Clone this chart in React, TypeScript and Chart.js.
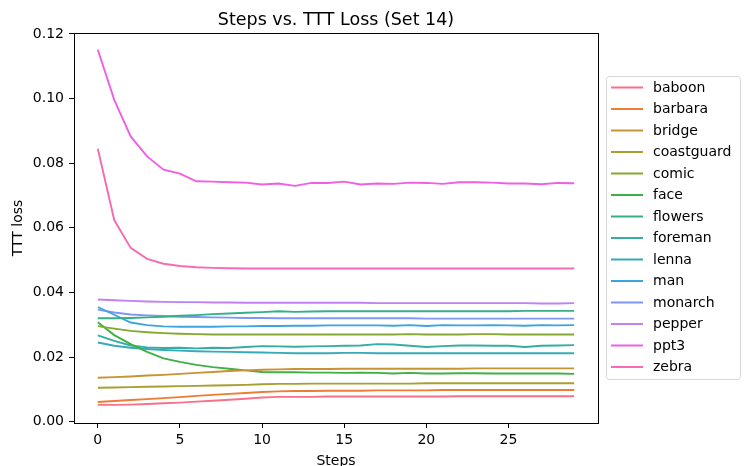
import React, { useEffect, useRef } from "react";
import { Chart, registerables } from "chart.js";

Chart.register(...registerables);

const STEPS = [0, 1, 2, 3, 4, 5, 6, 7, 8, 9, 10, 11, 12, 13, 14, 15, 16, 17, 18, 19, 20, 21, 22, 23, 24, 25, 26, 27, 28, 29];
const X_TICKS = [0, 5, 10, 15, 20, 25];
const Y_TICKS = [0, 0.02, 0.04, 0.06, 0.08, 0.1, 0.12];

const SERIES_NAMES = ["baboon", "barbara", "bridge", "coastguard", "comic", "face", "flowers", "foreman", "lenna", "man", "monarch", "pepper", "ppt3", "zebra"];
const SERIES_COLORS = ["#f77189", "#ed7d33", "#c69432", "#a89f31", "#84a831", "#3fb045", "#34af8a", "#36ada4", "#37aab8", "#3ea4e0", "#7f97f4", "#bf81f4", "#f05ee4", "#f66bb4"];

const baboon = [0.0052, 0.0052, 0.0053, 0.0055, 0.0057, 0.0059, 0.0062, 0.0065, 0.0068, 0.0071, 0.0075, 0.0077, 0.0077, 0.0077, 0.0078, 0.0078, 0.0078, 0.0078, 0.0078, 0.0078, 0.0078, 0.0078, 0.0079, 0.0079, 0.0079, 0.0079, 0.0079, 0.0079, 0.0079, 0.0079];
const barbara = [0.0061, 0.0064, 0.0067, 0.007, 0.0073, 0.0076, 0.008, 0.0083, 0.0086, 0.0089, 0.0092, 0.0094, 0.0095, 0.0095, 0.0096, 0.0096, 0.0096, 0.0097, 0.0097, 0.0097, 0.0097, 0.0098, 0.0098, 0.0098, 0.0098, 0.0098, 0.0098, 0.0098, 0.0098, 0.0098];
const bridge = [0.0136, 0.0138, 0.014, 0.0143, 0.0145, 0.0148, 0.0151, 0.0154, 0.0157, 0.0159, 0.0161, 0.0162, 0.0163, 0.0163, 0.0163, 0.0164, 0.0164, 0.0164, 0.0164, 0.0164, 0.0164, 0.0164, 0.0164, 0.0165, 0.0165, 0.0165, 0.0165, 0.0165, 0.0165, 0.0165];
const coastguard = [0.0105, 0.0106, 0.0107, 0.0108, 0.0109, 0.011, 0.0111, 0.0112, 0.0113, 0.0114, 0.0116, 0.0117, 0.0117, 0.0118, 0.0118, 0.0118, 0.0118, 0.0118, 0.0118, 0.0118, 0.0119, 0.0119, 0.0119, 0.0119, 0.0119, 0.0119, 0.0119, 0.0119, 0.0119, 0.0119];
const comic = [0.0296, 0.0288, 0.0281, 0.0277, 0.0274, 0.0272, 0.0271, 0.027, 0.027, 0.027, 0.027, 0.027, 0.027, 0.027, 0.027, 0.027, 0.027, 0.027, 0.027, 0.0271, 0.027, 0.027, 0.027, 0.0271, 0.0271, 0.027, 0.027, 0.027, 0.027, 0.027];
const face = [0.0308, 0.0268, 0.024, 0.0216, 0.0196, 0.0185, 0.0176, 0.0169, 0.0164, 0.0159, 0.0154, 0.0153, 0.0153, 0.0152, 0.0152, 0.0151, 0.0152, 0.0151, 0.0149, 0.0151, 0.0149, 0.0149, 0.015, 0.015, 0.0149, 0.0149, 0.0149, 0.0149, 0.0149, 0.0148];
const flowers = [0.032, 0.032, 0.0321, 0.0323, 0.0325, 0.0328, 0.033, 0.0333, 0.0335, 0.0337, 0.0339, 0.0342, 0.034, 0.0341, 0.0342, 0.0342, 0.0342, 0.0342, 0.0342, 0.0342, 0.0342, 0.0342, 0.0342, 0.0342, 0.0342, 0.0342, 0.0343, 0.0343, 0.0343, 0.0343];
const foreman = [0.0267, 0.025, 0.0236, 0.023, 0.0228, 0.0229, 0.0227, 0.0229, 0.0228, 0.0231, 0.0234, 0.0233, 0.0232, 0.0233, 0.0234, 0.0235, 0.0236, 0.024, 0.0239, 0.0235, 0.0231, 0.0234, 0.0236, 0.0236, 0.0235, 0.0235, 0.0231, 0.0235, 0.0236, 0.0237];
const lenna = [0.0245, 0.0235, 0.0229, 0.0225, 0.0222, 0.022, 0.0218, 0.0217, 0.0216, 0.0215, 0.0214, 0.0213, 0.0212, 0.0212, 0.0212, 0.0213, 0.0213, 0.0212, 0.0212, 0.0212, 0.0212, 0.0212, 0.0212, 0.0212, 0.0212, 0.0212, 0.0212, 0.0212, 0.0212, 0.0212];
const man = [0.0355, 0.0331, 0.0307, 0.0299, 0.0295, 0.0294, 0.0294, 0.0294, 0.0295, 0.0295, 0.0296, 0.0296, 0.0297, 0.0297, 0.0298, 0.0298, 0.0298, 0.0298, 0.0297, 0.0299, 0.0296, 0.0299, 0.0298, 0.0298, 0.0299, 0.0298, 0.0297, 0.0299, 0.0298, 0.0299];
const monarch = [0.0347, 0.0338, 0.0332, 0.0329, 0.0327, 0.0325, 0.0324, 0.0323, 0.0322, 0.0321, 0.0321, 0.032, 0.032, 0.032, 0.032, 0.032, 0.032, 0.032, 0.032, 0.032, 0.0319, 0.0319, 0.0319, 0.0319, 0.0319, 0.0319, 0.0319, 0.0319, 0.0319, 0.0319];
const pepper = [0.0378, 0.0376, 0.0374, 0.0372, 0.0371, 0.037, 0.037, 0.0369, 0.0369, 0.0368, 0.0368, 0.0368, 0.0368, 0.0368, 0.0368, 0.0368, 0.0368, 0.0367, 0.0367, 0.0367, 0.0367, 0.0367, 0.0367, 0.0367, 0.0367, 0.0367, 0.0367, 0.0366, 0.0366, 0.0367];
const ppt3 = [0.1151, 0.0996, 0.0883, 0.0821, 0.078, 0.0768, 0.0744, 0.0743, 0.0741, 0.074, 0.0734, 0.0737, 0.073, 0.0739, 0.0739, 0.0743, 0.0734, 0.0737, 0.0736, 0.074, 0.0739, 0.0736, 0.0741, 0.0741, 0.074, 0.0737, 0.0737, 0.0735, 0.0739, 0.0738];
const zebra = [0.0845, 0.0624, 0.0538, 0.0504, 0.0489, 0.0482, 0.0478, 0.0476, 0.0475, 0.0474, 0.0474, 0.0474, 0.0474, 0.0474, 0.0474, 0.0474, 0.0474, 0.0474, 0.0474, 0.0474, 0.0474, 0.0474, 0.0474, 0.0474, 0.0474, 0.0474, 0.0474, 0.0474, 0.0474, 0.0474];

const SERIES_VALUES = [baboon, barbara, bridge, coastguard, comic, face, flowers, foreman, lenna, man, monarch, pepper, ppt3, zebra];

const FONT = "'DejaVu Sans', sans-serif";

const framePlugin = {
  id: "frameAndLegend",
  afterDraw(chart: any) {
    const { ctx, chartArea } = chart;
    ctx.save();
    ctx.strokeStyle = "#000";
    ctx.lineWidth = 1;
    ctx.strokeRect(
      Math.round(chartArea.left) + 0.5,
      Math.round(chartArea.top) + 0.5,
      Math.round(chartArea.right - chartArea.left),
      Math.round(chartArea.bottom - chartArea.top)
    );
    ctx.fillStyle = "#000";
    ctx.font = `17.5px ${FONT}`;
    ctx.textAlign = "center";
    ctx.textBaseline = "alphabetic";
    ctx.fillText("Steps vs. TTT Loss (Set 14)", (chartArea.left + chartArea.right) / 2, 25);

    const bx = 606.5, by = 76.5, bw = 134, bh = 303, r = 3;
    ctx.beginPath();
    ctx.moveTo(bx + r, by);
    ctx.lineTo(bx + bw - r, by);
    ctx.quadraticCurveTo(bx + bw, by, bx + bw, by + r);
    ctx.lineTo(bx + bw, by + bh - r);
    ctx.quadraticCurveTo(bx + bw, by + bh, bx + bw - r, by + bh);
    ctx.lineTo(bx + r, by + bh);
    ctx.quadraticCurveTo(bx, by + bh, bx, by + bh - r);
    ctx.lineTo(bx, by + r);
    ctx.quadraticCurveTo(bx, by, bx + r, by);
    ctx.closePath();
    ctx.fillStyle = "rgba(255,255,255,0.8)";
    ctx.fill();
    ctx.strokeStyle = "#d6d6d6";
    ctx.lineWidth = 1;
    ctx.stroke();

    ctx.font = `14px ${FONT}`;
    ctx.textAlign = "left";
    ctx.textBaseline = "middle";
    chart.data.datasets.forEach((ds: any, i: number) => {
      const y = 87.5 + i * 21.5;
      ctx.strokeStyle = ds.borderColor;
      ctx.lineWidth = 2;
      ctx.beginPath();
      ctx.moveTo(611, y);
      ctx.lineTo(643, y);
      ctx.stroke();
      ctx.fillStyle = "#000";
      ctx.fillText(ds.label, 653, y + 0.5);
    });
    ctx.restore();
  },
};

export default function App() {
  const ref = useRef<HTMLCanvasElement | null>(null);

  useEffect(() => {
    document.body.style.margin = "0";
    if (!ref.current) return;
    Chart.defaults.color = "#000";
    Chart.defaults.font.family = FONT;
    const chart = new Chart(ref.current, {
      type: "line",
      data: {
        datasets: SERIES_NAMES.map((name, i) => ({
          label: name,
          data: SERIES_VALUES[i].map((v, j) => ({ x: STEPS[j], y: v })),
          borderColor: SERIES_COLORS[i],
          backgroundColor: SERIES_COLORS[i],
          borderWidth: 1.9,
          pointRadius: 0,
          tension: 0,
          fill: false,
        })),
      },
      options: {
        animation: false,
        responsive: false,
        events: [],
        layout: { padding: { left: 0, right: 156, top: 33, bottom: 0 } },
        plugins: {
          legend: { display: false },
          title: { display: false },
          tooltip: { enabled: false },
        },
        scales: {
          x: {
            type: "linear",
            min: -1.45,
            max: 30.45,
            afterBuildTicks: (scale: any) => {
              scale.ticks = X_TICKS.map((v) => ({ value: v }));
            },
            afterFit: (scale: any) => {
              scale.height = 43;
            },
            ticks: {
              font: { size: 14, family: FONT },
              color: "#000",
              padding: 4,
              maxRotation: 0,
              autoSkip: false,
              callback: (v: any) => String(v),
            },
            grid: {
              display: true,
              drawOnChartArea: false,
              drawTicks: true,
              tickLength: 5,
              tickColor: "#000",
              color: "#000",
            },
            border: { display: true, color: "#000", width: 1 },
            title: {
              display: true,
              text: "Steps",
              font: { size: 14, family: FONT },
              color: "#000",
              padding: { top: 0, bottom: -3.4 },
            },
          },
          y: {
            type: "linear",
            min: -0.0004,
            max: 0.1203,
            afterBuildTicks: (scale: any) => {
              scale.ticks = Y_TICKS.map((v) => ({ value: v }));
            },
            afterFit: (scale: any) => {
              scale.width = 74;
            },
            ticks: {
              font: { size: 14, family: FONT },
              color: "#000",
              padding: 5,
              autoSkip: false,
              callback: (v: any) => Number(v).toFixed(2),
            },
            grid: {
              display: true,
              drawOnChartArea: false,
              drawTicks: true,
              tickLength: 5,
              tickColor: "#000",
              color: "#000",
            },
            border: { display: true, color: "#000", width: 1 },
            title: {
              display: true,
              text: "TTT loss",
              font: { size: 14, family: FONT },
              color: "#000",
              padding: { top: 9.6, bottom: 0 },
            },
          },
        },
      },
      plugins: [framePlugin],
    } as any);
    return () => chart.destroy();
  }, []);

  return (
    <div style={{ width: 754, height: 466 }}>
      <canvas ref={ref} width={754} height={466} style={{ display: "block" }} />
    </div>
  );
}
